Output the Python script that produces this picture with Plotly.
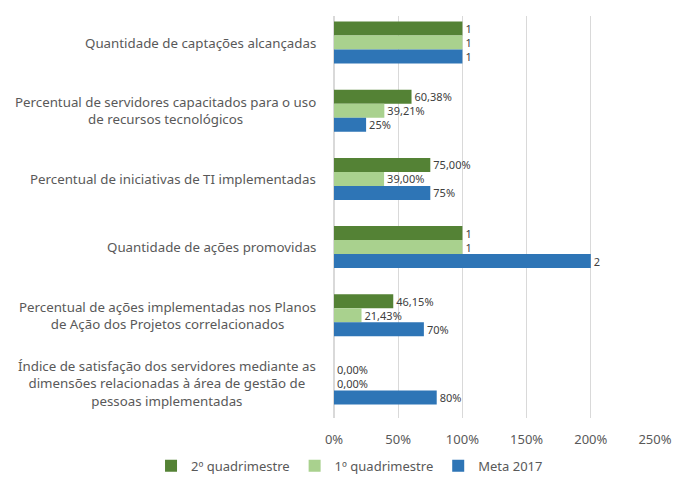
import plotly.graph_objects as go

categories = [
    "Quantidade de captações alcançadas",
    "Percentual de servidores capacitados para o uso<br>de recursos tecnológicos",
    "Percentual de iniciativas de TI implementadas",
    "Quantidade de ações promovidas",
    "Percentual de ações implementadas nos Planos<br>de Ação dos Projetos correlacionados",
    "Índice de satisfação dos servidores mediante as<br>dimensões relacionadas à área de gestão de<br>pessoas implementadas",
]
cat_ids = ["c1", "c2", "c3", "c4", "c5", "c6"]

q2_values = [1, 0.6038, 0.75, 1, 0.4615, 0]
q2_labels = ["1", "60,38%", "75,00%", "1", "46,15%", "0,00%"]
q1_values = [1, 0.3921, 0.39, 1, 0.2143, 0]
q1_labels = ["1", "39,21%", "39,00%", "1", "21,43%", "0,00%"]
meta_values = [1, 0.25, 0.75, 2, 0.70, 0.80]
meta_labels = ["1", "25%", "75%", "2", "70%", "80%"]

x_ticks = [0, 0.5, 1, 1.5, 2, 2.5]
x_tick_labels = ["0%", "50%", "100%", "150%", "200%", "250%"]

series = [
    ("2º quadrimestre", q2_values, q2_labels, "#548235"),
    ("1º quadrimestre", q1_values, q1_labels, "#A9D18E"),
    ("Meta 2017", meta_values, meta_labels, "#2E75B6"),
]

font_family = "Noto Sans"
fig = go.Figure()
for name, vals, labels, color in series:
    fig.add_trace(go.Bar(
        name=name, x=vals, y=cat_ids, orientation="h",
        marker=dict(color=color, line=dict(width=0)),
        text=labels, textposition="outside", cliponaxis=False,
        constraintext="none",
        textfont=dict(size=11, color="#404040", family=font_family),
    ))

for cid, label in zip(cat_ids, categories):
    fig.add_annotation(
        x=-0.05, xref="paper", y=cid, yref="y", text=label,
        showarrow=False, xanchor="right", yanchor="middle", align="center",
        font=dict(size=13.3, color="#595959", family=font_family),
    )

fig.update_layout(
    width=676, height=477,
    margin=dict(l=334, r=21, t=16, b=59, pad=0, autoexpand=False),
    barmode="group", bargap=0.384, bargroupgap=0,
    plot_bgcolor="white", paper_bgcolor="white",
    font=dict(family=font_family, color="#595959", size=13),
    showlegend=True,
    legend=dict(orientation="h", xref="paper", yref="paper",
                x=-0.57, xanchor="left", y=-0.119, yanchor="middle",
                font=dict(size=13, color="#595959"), itemwidth=30,
                traceorder="normal"),
    xaxis=dict(range=[0, 2.5], tickvals=x_ticks, ticktext=x_tick_labels,
               showgrid=True, gridcolor="#D9D9D9", gridwidth=1,
               zeroline=True, zerolinecolor="#D9D9D9", showline=False, ticks="",
               ticklabelstandoff=12,
               automargin=False, tickfont=dict(size=13, color="#595959")),
    yaxis=dict(categoryorder="array", categoryarray=cat_ids,
               range=[5.506, -0.389],
               showticklabels=False, showgrid=False, zeroline=False, ticks="",
               automargin=False),
)

fig.write_html("out.html", config={"displayModeBar": False},
               post_script="document.body.style.margin='0';")
